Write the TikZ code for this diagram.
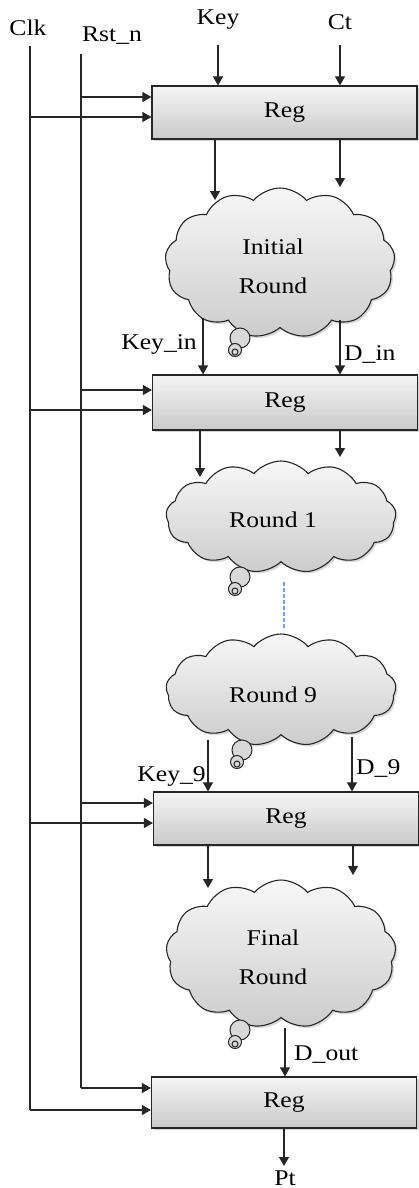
\documentclass[tikz,border=0pt]{standalone}
\usepackage{fontspec}
\setmainfont{Liberation Serif}[FakeStretch=1.14]
\usetikzlibrary{shapes.symbols,shadows,arrows.meta,calc}

\begin{document}
\begin{tikzpicture}[x=1pt,y=-1pt,
  font=\fontsize{22.5}{26}\selectfont,
  wire/.style={line width=1.2pt, draw=black!85},
  arr/.style={wire,-{Triangle[length=9pt,width=10pt]}},
  regbox/.style={rectangle, draw=black!85, line width=1.2pt,
    top color=gray!8, bottom color=gray!42,
    drop shadow={shadow xshift=2pt,shadow yshift=-2pt,opacity=0.35},
    minimum width=265pt, inner sep=0pt},
  puff/.style={cloud, cloud puffs=13, cloud puff arc=100, cloud ignores aspect,
    draw=black!85, line width=1.1pt, top color=gray!6, bottom color=gray!40,
    drop shadow={shadow xshift=2pt,shadow yshift=-2pt,opacity=0.3}, inner sep=0pt},
  bub/.style={circle, draw=black!85, line width=1pt, fill=gray!30, inner sep=0pt},
  lbl/.style={inner sep=0pt}
]
\useasboundingbox (0,0) rectangle (418,1188);

% registers
\node[regbox, minimum height=53pt] (reg1) at (284.5,112.5) {Reg};
\node[regbox, minimum height=55pt] (reg2) at (285,402.5) {Reg};
\node[regbox, minimum height=53pt] (reg3) at (286,818.5) {Reg};
\node[regbox, minimum height=51pt] (reg4) at (284,1102.5) {Reg};

% round clouds
\node[puff, minimum width=230pt, minimum height=150pt] (c1) at (280,263) {};
\node[lbl, align=center, font=\fontsize{22.5}{39}\selectfont] (t1) at (273,266) {Initial\\Round};
\node[puff, minimum width=230pt, minimum height=112pt] (c2) at (281,517) {};
\node[lbl] (t2) at (273,520) {Round 1};
\node[puff, minimum width=230pt, minimum height=112pt] (c3) at (281,690) {};
\node[lbl] (t3) at (273,695) {Round 9};
\node[puff, minimum width=230pt, minimum height=148pt] (c4) at (281,954) {};
\node[lbl, align=center, font=\fontsize{22.5}{39}\selectfont] (t4) at (273,957) {Final\\Round};

% thought-bubble tails
\foreach \n/\x/\y in {b1/240/338, b2/240/577, b3/242/750, b4/240/1030}{
  \node[bub, minimum size=20pt] (\n a) at (\x,\y) {};
  \node[bub, minimum size=13pt] (\n b) at ($(\x,\y)+(-5,12)$) {};
  \node[bub, minimum size=6pt, fill=none] (\n c) at ($(\x,\y)+(-5,14)$) {};
}

% gap between rounds
\draw[line width=1.2pt, draw={rgb,255:red,120;green,160;blue,220}, dash pattern=on 4pt off 2pt]
  (284,582) coordinate (g1) -- (284,630) coordinate (g2);

% signal labels
\node[lbl] (clk) at (28,28) {Clk};
\node[lbl] (rst) at (112,36) {Rst\_n};
\node[lbl] (key) at (218,20) {Key};
\node[lbl] (ct) at (340,22) {Ct};
\node[lbl, anchor=east] (kin) at (197,344) {Key\_in};
\node[lbl, anchor=west] (din) at (344,354) {D\_in};
\node[lbl, anchor=east] (k9) at (206,776) {Key\_9};
\node[lbl, anchor=west] (d9) at (356,768) {D\_9};
\node[lbl, anchor=west] (dout) at (294,1055) {D\_out};
\node[lbl] (pt) at (285,1178) {Pt};

% clock and reset trunks
\coordinate (clkbot) at (30,1110);
\coordinate (rstbot) at (81,1088);
\draw[wire] (30,46) -- (clkbot);
\draw[wire] (81,54) -- (rstbot);
\draw[arr] (rstbot) -- (rstbot -| reg4.west);
\draw[arr] (clkbot) -- (clkbot -| reg4.west);
\foreach \r/\ry/\cy in {reg1/97/117, reg2/390/410, reg3/803/823}{
  \draw[arr] (81,\ry) -- (81,\ry -| \r.west);
  \draw[arr] (30,\cy) -- (30,\cy -| \r.west);
}

% inputs
\draw[arr] (key.south |- 0,45) -- (key.south |- reg1.north);
\draw[arr] (ct.south |- 0,45) -- (ct.south |- reg1.north);

% Reg1 -> Initial Round
\coordinate (a1) at (215,200);
\coordinate (a2) at (340,187);
\draw[arr] (reg1.south -| a1) -- (a1);
\draw[arr] (reg1.south -| a2) -- (a2);
% Initial Round -> Reg2
\coordinate (s1) at (203,318);
\coordinate (s2) at (340,320);
\draw[arr] (s1) -- (s1 |- reg2.north);
\draw[arr] (s2) -- (s2 |- reg2.north);
% Reg2 -> Round 1
\coordinate (a3) at (200,477);
\coordinate (a4) at (340,457);
\draw[arr] (reg2.south -| a3) -- (a3);
\draw[arr] (reg2.south -| a4) -- (a4);
% Round 9 -> Reg3
\coordinate (s3) at (208,740);
\coordinate (s4) at (352,737);
\draw[arr] (s3) -- (s3 |- reg3.north);
\draw[arr] (s4) -- (s4 |- reg3.north);
% Reg3 -> Final Round
\coordinate (a5) at (208,888);
\coordinate (a6) at (353,875);
\draw[arr] (reg3.south -| a5) -- (a5);
\draw[arr] (reg3.south -| a6) -- (a6);
% Final Round -> Reg4 -> Pt
\coordinate (s5) at (285,1028);
\draw[arr] (s5) -- (s5 |- reg4.north);
\draw[arr] (reg4.south) -- (reg4.south |- 0,1166);
\end{tikzpicture}
\end{document}
